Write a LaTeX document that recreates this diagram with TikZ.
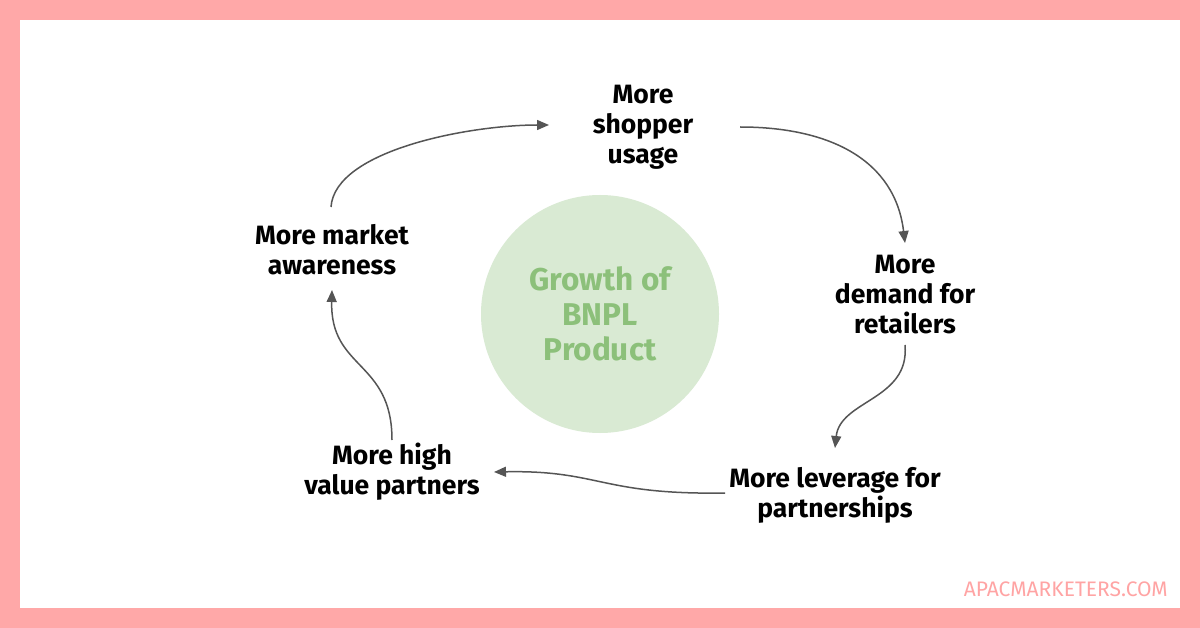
\documentclass[tikz,border=0pt]{standalone}
\usepackage{fontspec}
\setmainfont{Fira Sans}
\usetikzlibrary{arrows.meta}
\definecolor{border}{HTML}{FFA8A8}
\definecolor{circ}{HTML}{D9EAD3}
\definecolor{gtext}{HTML}{8CC07A}
\definecolor{arr}{HTML}{555555}
\definecolor{mark}{HTML}{FFA4A4}
\tikzset{
  lbl/.style={align=center, font=\fontsize{26.5}{30}\selectfont\bfseries, text=black, inner sep=0pt},
  conn/.style={draw=arr, line width=1.5pt, -{Triangle[length=12pt,width=10pt]}},
}
\begin{document}
\begin{tikzpicture}[x=1pt,y=-1pt]
\fill[border] (0,0) rectangle (1200,628);
\fill[white] (20,20) rectangle (1180,608);
\useasboundingbox (0,0) rectangle (1200,628);
\node[circle, fill=circ, minimum size=238pt, inner sep=0pt] (c) at (600,314) {};
\node[align=center, font=\fontsize{31.5}{35}\selectfont\bfseries, text=gtext] (ct) at (600,314) {Growth of\\BNPL\\Product};
\node[lbl] (a) at (643,127) {More\\shopper\\usage};
\node[lbl] (b) at (905,295) {More\\demand for\\retailers};
\node[lbl] (d) at (835,495) {More leverage for\\partnerships};
\node[lbl] (e) at (392,472) {More high\\value partners};
\node[lbl] (f) at (332,250) {More market\\awareness};
\node[font=\fontsize{21}{24}\selectfont, text=mark, anchor=east, inner sep=0pt] (w) at (1168,589) {APACMARKETERS.COM};
\coordinate (f1) at (331,207);
\coordinate (a0) at (549,125);
\coordinate (a1) at (740,127);
\coordinate (b0) at (905,243);
\coordinate (b1) at (905,345);
\coordinate (d0) at (835,448);
\coordinate (d1) at (725,493);
\coordinate (e0) at (494,472);
\coordinate (e1) at (392,440);
\coordinate (f0) at (332,290);
\draw[conn] (f1) .. controls (335,150) and (470,125) .. (a0);
\draw[conn] (a1) .. controls (830,127) and (895,160) .. (b0);
\draw[conn] (b1) .. controls (910,400) and (840,400) .. (d0);
\draw[conn] (d1) .. controls (600,495) and (600,470) .. (e0);
\draw[conn] (e1) .. controls (392,360) and (330,370) .. (f0);
\end{tikzpicture}
\end{document}
